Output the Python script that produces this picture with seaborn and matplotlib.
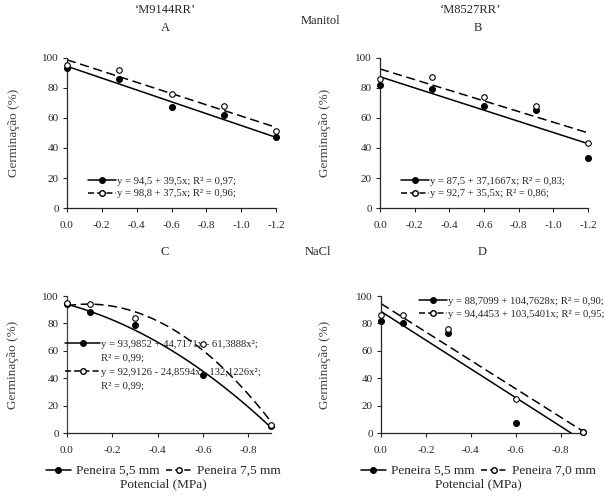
import numpy as np
import pandas as pd
import matplotlib
matplotlib.use("Agg")
import matplotlib.pyplot as plt
import seaborn as sns
from matplotlib.lines import Line2D

# ---------------- Data ----------------
x_man = [0.0, -0.3, -0.6, -0.9, -1.2]
x_nacl = [0.0, -0.1, -0.3, -0.6, -0.9]

a_small = [93, 86, 67, 62, 47]
a_large = [95, 92, 76, 68, 51]
b_small = [82, 79, 68, 65, 33]
b_large = [86, 87, 74, 68, 43]
c_small = [94, 88, 79, 42, 5]
c_large = [95, 94, 84, 65, 6]
d_small = [82, 80, 73, 7, 1]
d_large = [86, 86, 76, 25, 1]

# regression coefficients (b0, b1, b2)
a_fit = [(94.5, 39.5, 0.0), (98.8, 37.5, 0.0)]
b_fit = [(87.5, 37.1667, 0.0), (92.7, 35.5, 0.0)]
c_fit = [(93.9852, 44.7171, -61.3888), (92.9126, -24.8594, -132.1226)]
d_fit = [(88.7099, 104.7628, 0.0), (94.4453, 103.5401, 0.0)]

a_eq = ["y = 94,5 + 39,5x; R² = 0,97;", "y = 98,8 + 37,5x; R² = 0,96;"]
b_eq = ["y = 87,5 + 37,1667x; R² = 0,83;", "y = 92,7 + 35,5x; R² = 0,86;"]
c_eq = ["y = 93,9852 + 44,7171x - 61,3888x²;", "R² = 0,99;",
        "y = 92,9126 - 24,8594x - 132,1226x²;", "R² = 0,99;"]
d_eq = ["y = 88,7099 + 104,7628x; R² = 0,90;", "y = 94,4453 + 103,5401x; R² = 0,95;"]

# ---------------- Style ----------------
sns.set_style("ticks")
plt.rcParams["font.family"] = ["Liberation Serif", "DejaVu Serif"]
plt.rcParams["font.size"] = 8

W, H = 606, 498
fig = plt.figure(figsize=(W / 100, H / 100), dpi=100)


def px_axes(l, r, t, b):
    return fig.add_axes([l / W, 1 - b / H, (r - l) / W, (b - t) / H])


def panel(ax, x, small, large, fits, xmax, xticks):
    df = pd.DataFrame({"x": x * 2, "y": small + large,
                       "s": ["small"] * len(x) + ["large"] * len(x)})
    for (b0, b1, b2), ls in zip(fits, ["-", (0, (6, 3))]):
        xx = np.linspace(0, xmax, 200)
        yy = b0 + b1 * xx + b2 * xx ** 2
        ax.plot(xx, yy, color="black", lw=1.1, ls=ls, zorder=2)
    sns.scatterplot(data=df[df.s == "small"], x="x", y="y", ax=ax, color="black",
                    s=18, edgecolor="black", linewidth=0.8, zorder=3, legend=False, clip_on=False)
    sns.scatterplot(data=df[df.s == "large"], x="x", y="y", ax=ax, color="white",
                    s=16, edgecolor="black", linewidth=0.8, zorder=4, legend=False, clip_on=False)
    ax.set_xlim(0, xmax)
    ax.set_ylim(0, 100)
    ax.set_xticks(xticks)
    ax.set_xticklabels([f"{t:.1f}" for t in xticks])
    ax.set_yticks(range(0, 101, 20))
    ax.set_xlabel("")
    ax.set_ylabel("Germinação (%)", fontsize=9.5, color="#444444")
    sns.despine(ax=ax)
    ax.tick_params(direction="out", length=3, width=0.8, labelsize=8)
    ax.tick_params(axis="x", pad=6)
    ax.tick_params(axis="y", pad=3)
    for sp in ax.spines.values():
        sp.set_linewidth(0.9)


def handles():
    h1 = Line2D([], [], color="black", lw=1.1, marker="o", markersize=4,
                markerfacecolor="black")
    h2 = Line2D([], [], color="black", lw=1.1, ls=(0, (4, 2)), marker="o",
                markersize=4, markerfacecolor="white")
    return [h1, h2]


axA = px_axes(67, 276, 58, 208)
axB = px_axes(380, 588, 58, 208)
axC = px_axes(67, 271, 296, 433)
axD = px_axes(381, 583, 296, 433)

man_ticks = [0.0, -0.2, -0.4, -0.6, -0.8, -1.0, -1.2]
nacl_ticks = [0.0, -0.2, -0.4, -0.6, -0.8]

panel(axA, x_man, a_small, a_large, a_fit, -1.2, man_ticks)
panel(axB, x_man, b_small, b_large, b_fit, -1.2, man_ticks)
panel(axC, x_nacl, c_small, c_large, c_fit, -0.9, nacl_ticks)
panel(axD, x_nacl, d_small, d_large, d_fit, -0.9, nacl_ticks)
axC.spines["left"].set_color("#5a3b2a")

for ax, lx in [(axA, -0.225), (axB, -0.236), (axC, -0.235), (axD, -0.248)]:
    ax.yaxis.set_label_coords(lx, 0.5)

leg_kw = dict(frameon=False, handlelength=2.6, handletextpad=0.1, borderpad=0,
              borderaxespad=0, labelspacing=0.3, fontsize=7.7)
axA.legend(handles(), a_eq, loc="lower left", bbox_to_anchor=(0.10, 0.065), **leg_kw)
axB.legend(handles(), b_eq, loc="lower left", bbox_to_anchor=(0.10, 0.065), **leg_kw)

blank = Line2D([], [], lw=0)
hc = handles()
c_kw = dict(leg_kw, labelspacing=0.42, handlelength=3.3)
axC.legend([hc[0], blank, hc[1], blank], c_eq, loc="lower left",
           bbox_to_anchor=(-0.01, 0.31), **c_kw)
axD.legend(handles(), d_eq, loc="upper left", bbox_to_anchor=(0.19, 0.995), **leg_kw)

# bottom legends and axis titles
for ax, lab2, cx in [(axC, "Peneira 7,5 mm", 163), (axD, "Peneira 7,0 mm", 478)]:
    fig.legend(handles(), ["Peneira 5,5 mm", lab2], loc="center",
               bbox_to_anchor=(cx / W, 1 - 471 / H), ncol=2, frameon=False,
               handlelength=1.9, handletextpad=0.4, columnspacing=0.5, fontsize=9.5)
    fig.text(cx / W, 1 - 484 / H, "Potencial (MPa)", ha="center", va="center", fontsize=9.5)

# headings
fig.text(165 / W, 1 - 10 / H, "‘M9144RR’", ha="center", va="center", fontsize=9)
fig.text(165 / W, 1 - 28 / H, "A", ha="center", va="center", fontsize=9)
fig.text(470 / W, 1 - 10 / H, "‘M8527RR’", ha="center", va="center", fontsize=9)
fig.text(478 / W, 1 - 28 / H, "B", ha="center", va="center", fontsize=9)
fig.text(320 / W, 1 - 21 / H, "Manitol", ha="center", va="center", fontsize=9)
fig.text(318 / W, 1 - 252 / H, "NaCl", ha="center", va="center", fontsize=9)
fig.text(165 / W, 1 - 252 / H, "C", ha="center", va="center", fontsize=9)
fig.text(482 / W, 1 - 252 / H, "D", ha="center", va="center", fontsize=9)

fig.savefig("out.png", dpi=100)
